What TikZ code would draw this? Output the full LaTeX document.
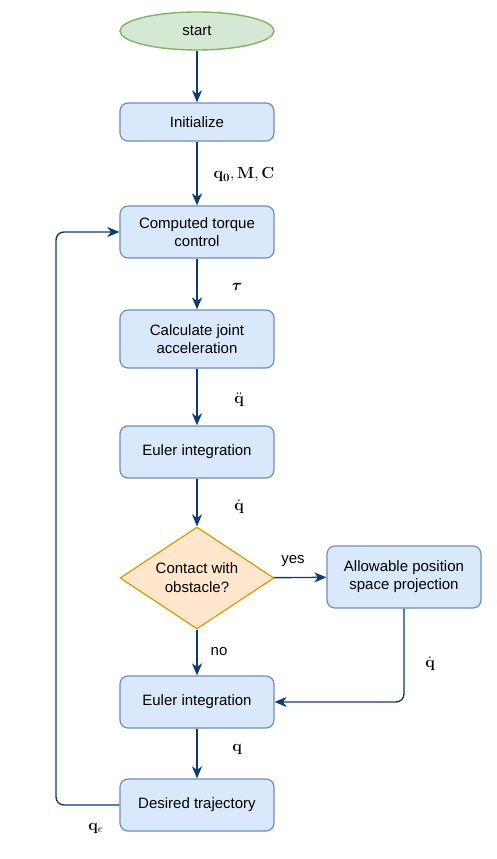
\RequirePackage{fix-cm}
\documentclass[tikz,border=0pt]{standalone}
\usepackage{amsmath}
\usepackage{bm}
\usepackage[no-math]{fontspec}
\setmainfont{Liberation Sans}
\usetikzlibrary{arrows.meta,shapes.geometric}
\definecolor{boxfill}{HTML}{DAE8FC}
\definecolor{boxline}{HTML}{6C8EBF}
\definecolor{startfill}{HTML}{D5E8D4}
\definecolor{startline}{HTML}{82B366}
\definecolor{decfill}{HTML}{FFE6CC}
\definecolor{decline}{HTML}{D79B00}
\definecolor{flow}{HTML}{0B3D72}
\tikzset{
  procbox/.style={draw=boxline, fill=boxfill, line width=1.2pt, rounded corners=8pt,
    minimum width=154pt, inner sep=0pt, align=center, font=\fontsize{15}{18}\selectfont},
  startnode/.style={ellipse, draw=startline, fill=startfill, line width=1.4pt,
    minimum width=154pt, minimum height=38pt, inner sep=0pt, font=\fontsize{15}{18}\selectfont},
  decision/.style={diamond, draw=decline, fill=decfill, line width=1.2pt, aspect=1.51,
    minimum width=154pt, minimum height=102pt, inner sep=0pt, align=center,
    font=\fontsize{15}{19}\selectfont},
  flowarrow/.style={draw=flow, line width=1.4pt, -{Stealth[length=12pt,width=10pt,inset=3.5pt]}},
  lbl/.style={font=\fontsize{15}{18}\selectfont, inner sep=0pt},
  mlbl/.style={font=\fontsize{16}{18}\selectfont, inner sep=0pt}
}
\begin{document}
\begin{tikzpicture}[x=1pt,y=-1pt]
\useasboundingbox (0,0) rectangle (496,859);
\node[startnode] (start) at (197,31) {start};
\node[procbox, minimum height=38pt] (init) at (197,122) {Initialize};
\node[procbox, minimum height=52pt] (ctc) at (197,232) {Computed torque\\control};
\node[procbox, minimum height=58pt] (accel) at (197,339) {Calculate joint\\acceleration};
\node[procbox, minimum height=52pt] (euler1) at (197,452) {Euler integration};
\node[decision] (contact) at (197,578) {Contact with\\obstacle?};
\node[procbox, minimum height=62pt] (proj) at (404,577) {Allowable position\\space projection};
\node[procbox, minimum height=52pt] (euler2) at (197,702) {Euler integration};
\node[procbox, minimum height=52pt] (traj) at (197,805) {Desired trajectory};
\coordinate (loop) at (56,805);
%%
\node[mlbl] (lq0) at (244,175) {$\mathbf{q_0}, \mathbf{M}, \mathbf{C}$};
\node[mlbl] (ltau) at (237,287) {$\bm{\tau}$};
\node[mlbl] (lqdd) at (239,400) {$\ddot{\mathbf{q}}$};
\node[mlbl] (lqd) at (239,507) {$\dot{\mathbf{q}}$};
\node[lbl] (lyes) at (293,561) {yes};
\node[lbl] (lno) at (219,652) {no};
\node[mlbl] (lqd2) at (430,664) {$\dot{\mathbf{q}}$};
\node[mlbl] (lq) at (237,749) {$\mathbf{q}$};
\node[mlbl] (lqe) at (96,828) {$\mathbf{q}_e$};
%%
\draw[flowarrow] (start) -- (init);
\draw[flowarrow] (init) -- (ctc);
\draw[flowarrow] (ctc) -- (accel);
\draw[flowarrow] (accel) -- (euler1);
\draw[flowarrow] (euler1) -- (contact);
\draw[flowarrow] (contact) -- (proj);
\draw[flowarrow] (contact) -- (euler2);
\draw[flowarrow, rounded corners=8pt] (proj.south) |- (euler2.east);
\draw[flowarrow] (euler2) -- (traj);
\draw[flowarrow, rounded corners=8pt] (traj.west) -- (loop) |- (ctc.west);
\end{tikzpicture}
\end{document}
